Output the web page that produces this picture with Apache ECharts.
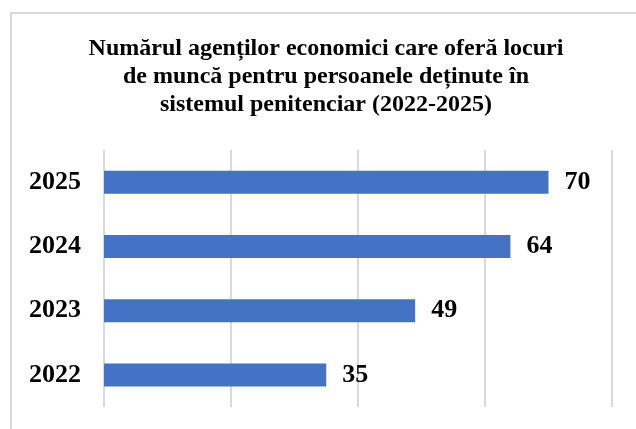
<!DOCTYPE html>
<html>
<head>
<meta charset="UTF-8"/>
<title>Agenți economici</title>
<script src="https://cdn.jsdelivr.net/npm/echarts@6/dist/echarts.min.js"></script>
<style>
  html, body { margin: 0; padding: 0; background: #fff; }
  #placeholder { width: 636px; height: 429px; }
</style>
</head>
<body>
<div id="placeholder"></div>
<script type="text/javascript">
var years = ['2022', '2023', '2024', '2025'];
var agenti = [35, 49, 64, 70];
var axisTicks = [0, 20, 40, 60, 80];

var serif = '"Liberation Serif", "Times New Roman", serif';
var myChart = echarts.init(document.getElementById('placeholder'));

var option = {
    backgroundColor: '#fff',
    animation: false,
    title: {
        text: 'Numărul agenților economici care oferă locuri\nde muncă pentru persoanele deținute în\nsistemul penitenciar (2022-2025)',
        left: 321,
        top: 30,
        textAlign: 'center',
        textStyle: {
            fontFamily: serif,
            fontWeight: 'bold',
            fontSize: 24,
            lineHeight: 28,
            color: '#000'
        }
    },
    // chenarul gri din stanga si de sus
    graphic: [{
        type: 'polyline',
        shape: { points: [[11, 429], [11, 13], [636, 13]] },
        style: { stroke: '#d9d9d9', lineWidth: 2, fill: null },
        silent: true
    }],
    grid: { left: 104, right: 24, top: 150, bottom: 22 },
    xAxis: {
        type: 'value',
        min: axisTicks[0],
        max: axisTicks[axisTicks.length - 1],
        interval: axisTicks[1] - axisTicks[0],
        axisLabel: { show: false },
        axisLine: { show: false },
        axisTick: { show: false },
        splitLine: { lineStyle: { color: '#d9d9d9', width: 2 } }
    },
    yAxis: {
        type: 'category',
        data: years,
        axisLine: { show: false },
        axisTick: { show: false },
        axisLabel: {
            margin: 23,
            fontFamily: serif,
            fontWeight: 'bold',
            fontSize: 26,
            color: '#000'
        }
    },
    series: [{
        type: 'bar',
        data: agenti,
        barWidth: 23,
        itemStyle: { color: '#4472c4' },
        label: {
            show: true,
            position: 'right',
            distance: 16,
            fontFamily: serif,
            fontWeight: 'bold',
            fontSize: 26,
            color: '#000'
        }
    }]
};
myChart.setOption(option);
</script>
</body>
</html>
